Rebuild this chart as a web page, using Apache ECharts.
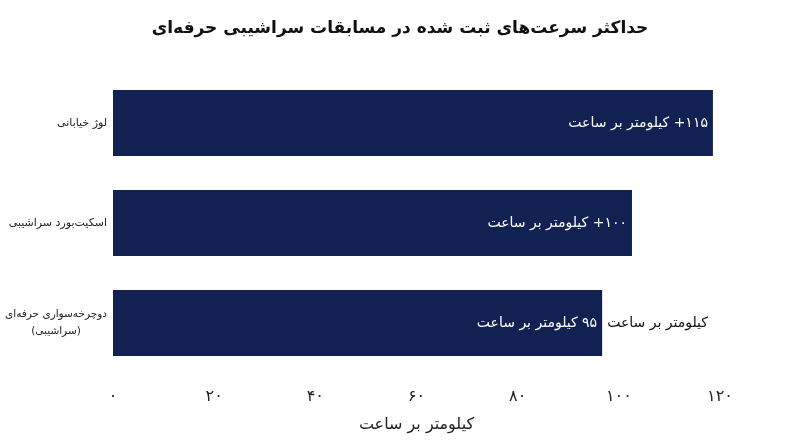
<!DOCTYPE html>
<html lang="fa" dir="rtl">
<head>
<meta charset="utf-8">
<script src="https://cdn.jsdelivr.net/npm/echarts@6/dist/echarts.min.js"></script>
<style>
html,body{margin:0;padding:0;background:#fff;}
#chart{width:800px;height:447px;}
</style>
</head>
<body>
<div id="chart"></div>
<script>
// categories top to bottom
var categories = ['لوژ خیابانی', 'اسکیت‌بورد سراشیبی', 'دوچرخه‌سواری حرفه‌ای\n(سراشیبی)'];
// bar lengths
var speeds = [118.6, 102.6, 96.7];
// text printed inside the bars
var insideLabels = ['۱۱۵+ کیلومتر بر ساعت', '۱۰۰+ کیلومتر بر ساعت', '۹۵ کیلومتر بر ساعت'];
// text printed just after the bar end
var outsideLabels = ['', '', 'کیلومتر بر ساعت'];
var xTicks = [0, 20, 40, 60, 80, 100, 120];

var font = 'DejaVu Sans';

function toFa(n){
    return String(n).replace(/\d/g, function(d){ return '۰۱۲۳۴۵۶۷۸۹'[d]; });
}

var myChart = echarts.init(document.getElementById('chart'));
var option = {
    animation: false,
    title: {
        text: 'حداکثر سرعت‌های ثبت شده در مسابقات سراشیبی حرفه‌ای',
        left: 'center',
        top: 15,
        textStyle: {fontFamily: font, fontSize: 17, fontWeight: 'bold', color: '#111'}
    },
    grid: {left: 113, right: 80, top: 73, bottom: 74, outerBoundsMode: 'none', containLabel: false},
    xAxis: {
        type: 'value',
        min: xTicks[0],
        max: xTicks[xTicks.length - 1],
        interval: 20,
        axisLine: {show: false},
        axisTick: {show: false},
        splitLine: {show: false},
        axisLabel: {
            fontFamily: font, fontSize: 16, color: '#222', margin: 16,
            formatter: function(v){ return toFa(v); }
        },
        name: 'کیلومتر بر ساعت',
        nameLocation: 'middle',
        nameGap: 44,
        nameTextStyle: {fontFamily: font, fontSize: 16, color: '#222'}
    },
    yAxis: {
        type: 'category',
        data: categories,
        inverse: true,
        axisLine: {show: false},
        axisTick: {show: false},
        axisLabel: {
            fontFamily: font, fontSize: 11, color: '#222', margin: 6,
            formatter: function(v){
                if (v.indexOf('\n') >= 0) {
                    return v.split('\n').map(function(s){ return '{c|' + s + '}'; }).join('\n');
                }
                return v;
            },
            rich: {c: {fontFamily: font, fontSize: 10.5, color: '#222', width: 102, align: 'center', lineHeight: 17}}
        }
    },
    series: [
        {
            type: 'bar',
            data: speeds,
            barWidth: 66,
            itemStyle: {color: '#112152'},
            label: {
                show: true,
                position: 'insideRight',
                distance: 5,
                fontFamily: font, fontSize: 14, color: '#fff',
                formatter: function(p){ return insideLabels[p.dataIndex]; }
            }
        },
        {
            type: 'bar',
            data: speeds,
            barWidth: 66,
            barGap: '-100%',
            itemStyle: {color: 'rgba(0,0,0,0)'},
            silent: true,
            label: {
                show: true,
                position: 'right',
                distance: 5,
                fontFamily: font, fontSize: 14, color: '#111',
                formatter: function(p){ return outsideLabels[p.dataIndex]; }
            }
        }
    ]
};
myChart.setOption(option);
</script>
</body>
</html>
